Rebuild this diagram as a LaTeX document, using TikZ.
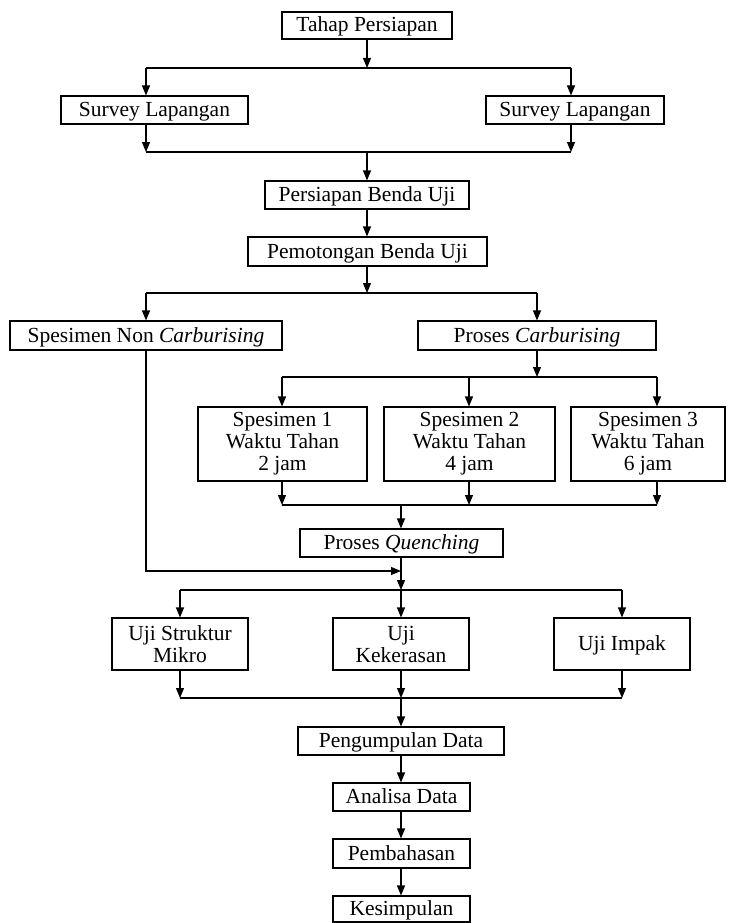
\documentclass[tikz,border=0pt]{standalone}
\usepackage{fontspec}
\setmainfont{Liberation Serif}
\usetikzlibrary{arrows.meta}
\begin{document}
\begin{tikzpicture}[x=1pt,y=-1pt,
  box/.style={draw,line width=1.1pt,inner sep=0pt,align=center,font=\fontsize{21.5}{22}\selectfont},
  one/.style={text height=15pt,text depth=2pt},
  arr/.style={line width=1.1pt,-{Triangle[length=10pt,width=8pt]}},
  ln/.style={line width=1.1pt}]
\useasboundingbox (0,0) rectangle (730,923);
% nodes
\node[box,one,minimum width=170pt,minimum height=27pt] (tp) at (367,25.5) {Tahap Persiapan};
\node[box,one,minimum width=187pt,minimum height=28pt] (sl1) at (154.5,110) {Survey Lapangan};
\node[box,one,minimum width=178pt,minimum height=28pt] (sl2) at (575,110) {Survey Lapangan};
\node[box,one,minimum width=204pt,minimum height=28pt] (pbu) at (367,195) {Persiapan Benda Uji};
\node[box,one,minimum width=239pt,minimum height=29pt] (pot) at (367.5,251.5) {Pemotongan Benda Uji};
\node[box,one,minimum width=272pt,minimum height=29pt] (snc) at (146,335.5) {Spesimen Non \textit{Carburising}};
\node[box,one,minimum width=238pt,minimum height=29pt] (pc) at (537,335.5) {Proses \textit{Carburising}};
\node[box,minimum width=169pt,minimum height=74pt] (s1) at (282.5,444) {Spesimen 1\\Waktu Tahan\\2 jam};
\node[box,minimum width=171pt,minimum height=74pt] (s2) at (469.5,444) {Spesimen 2\\Waktu Tahan\\4 jam};
\node[box,minimum width=154pt,minimum height=74pt] (s3) at (648,444) {Spesimen 3\\Waktu Tahan\\6 jam};
\node[box,one,minimum width=203pt,minimum height=28pt] (pq) at (401.5,543) {Proses \textit{Quenching}};
\node[box,minimum width=136pt,minimum height=52pt] (u1) at (180,644) {Uji Struktur\\Mikro};
\node[box,minimum width=136pt,minimum height=52pt] (u2) at (401,644) {Uji\\Kekerasan};
\node[box,one,minimum width=136pt,minimum height=52pt] (u3) at (622,644) {Uji Impak};
\node[box,one,minimum width=206pt,minimum height=28pt] (pd) at (401,741) {Pengumpulan Data};
\node[box,one,minimum width=137pt,minimum height=28pt] (ad) at (401.5,797) {Analisa Data};
\node[box,one,minimum width=137pt,minimum height=29pt] (pb) at (401.5,853.5) {Pembahasan};
\node[box,one,minimum width=137pt,minimum height=26pt] (ks) at (401.5,909) {Kesimpulan};
% junction coordinates
\coordinate (j1) at (367,68); \coordinate (j1l) at (146,68); \coordinate (j1r) at (571,68);
\coordinate (j2) at (367,152); \coordinate (j2l) at (146,152); \coordinate (j2r) at (571,152);
\coordinate (j3) at (367,293); \coordinate (j3l) at (146,293); \coordinate (j3r) at (537,293);
\coordinate (j4) at (537,377); \coordinate (j4l) at (282,377); \coordinate (j4m) at (469,377); \coordinate (j4r) at (657,377);
\coordinate (j5) at (401,505); \coordinate (j5l) at (282,505); \coordinate (j5m) at (469,505); \coordinate (j5r) at (657,505);
\coordinate (nc) at (146,571); \coordinate (ncend) at (401,571);
\coordinate (j6) at (401,590); \coordinate (j6l) at (180,590); \coordinate (j6r) at (622,590);
\coordinate (j7) at (401,698); \coordinate (j7l) at (180,698); \coordinate (j7r) at (622,698);
% connectors
\draw[arr] (tp.south) -- (j1);
\draw[ln] (j1l) -- (j1r);
\draw[arr] (j1l) -- (j1l |- sl1.north);
\draw[arr] (j1r) -- (j1r |- sl2.north);
\draw[arr] (sl1.south -| j2l) -- (j2l);
\draw[arr] (sl2.south -| j2r) -- (j2r);
\draw[ln] (j2l) -- (j2r);
\draw[arr] (j2) -- (pbu.north -| j2);
\draw[arr] (pbu.south -| j2) -- (pot.north -| j2);
\draw[arr] (pot.south -| j3) -- (j3);
\draw[ln] (j3l) -- (j3r);
\draw[arr] (j3l) -- (snc.north -| j3l);
\draw[arr] (j3r) -- (pc.north -| j3r);
\draw[arr] (pc.south -| j4) -- (j4);
\draw[ln] (j4l) -- (j4r);
\draw[arr] (j4l) -- (s1.north -| j4l);
\draw[arr] (j4m) -- (s2.north -| j4m);
\draw[arr] (j4r) -- (s3.north -| j4r);
\draw[arr] (s1.south -| j5l) -- (j5l);
\draw[arr] (s2.south -| j5m) -- (j5m);
\draw[arr] (s3.south -| j5r) -- (j5r);
\draw[ln] (j5l) -- (j5r);
\draw[arr] (j5) -- (pq.north -| j5);
\draw[arr] (snc.south -| nc) -- (nc) -- (ncend);
\draw[arr] (pq.south -| j6) -- (j6);
\draw[ln] (j6l) -- (j6r);
\draw[arr] (j6l) -- (u1.north -| j6l);
\draw[arr] (j6) -- (u2.north -| j6);
\draw[arr] (j6r) -- (u3.north -| j6r);
\draw[arr] (u1.south -| j7l) -- (j7l);
\draw[arr] (u2.south -| j7) -- (j7);
\draw[arr] (u3.south -| j7r) -- (j7r);
\draw[ln] (j7l) -- (j7r);
\draw[arr] (j7) -- (pd.north -| j7);
\draw[arr] (pd.south -| j7) -- (ad.north -| j7);
\draw[arr] (ad.south -| j7) -- (pb.north -| j7);
\draw[arr] (pb.south -| j7) -- (ks.north -| j7);
\end{tikzpicture}
\end{document}
